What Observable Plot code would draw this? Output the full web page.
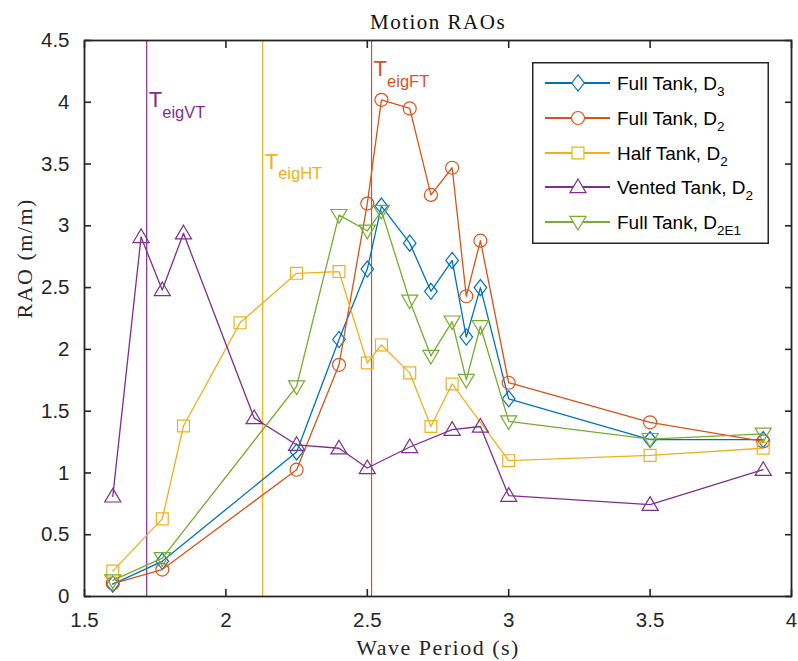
<!DOCTYPE html>
<html>
<head>
<meta charset="utf-8">
<script src="https://cdn.jsdelivr.net/npm/d3@7"></script>
<script src="https://cdn.jsdelivr.net/npm/@observablehq/plot@0.6"></script>
<style>
  html, body { margin: 0; padding: 0; background: white; }
  #wrap { position: relative; width: 798px; height: 661px; overflow: hidden; }
  #wrap svg { display: block; }
  [font-family*="Serif"] { letter-spacing: 1.5px; }
  #legend { position: absolute; left: 532px; top: 62px; }
</style>
</head>
<body>
<div id="wrap"><div id="chart"></div><div id="legend"></div></div>
<script>
// ---------- data ----------
const xTicks = [1.5, 2, 2.5, 3, 3.5, 4];
const yTicks = [0, 0.5, 1, 1.5, 2, 2.5, 3, 3.5, 4, 4.5];

const fullD3Period = [1.6, 1.775, 2.25, 2.4, 2.5, 2.55, 2.65, 2.725, 2.8, 2.85, 2.9, 3.0, 3.5, 3.9];
const fullD3Rao    = [0.10, 0.285, 1.17, 2.08, 2.65, 3.16, 2.86, 2.47, 2.72, 2.10, 2.50, 1.60, 1.27, 1.27];

const fullD2Period = [1.6, 1.775, 2.25, 2.4, 2.5, 2.55, 2.65, 2.725, 2.8, 2.85, 2.9, 3.0, 3.5, 3.9];
const fullD2Rao    = [0.105, 0.218, 1.026, 1.875, 3.18, 4.02, 3.95, 3.25, 3.47, 2.43, 2.88, 1.73, 1.41, 1.255];

const halfD2Period = [1.6, 1.775, 1.85, 2.05, 2.25, 2.4, 2.5, 2.55, 2.65, 2.725, 2.8, 3.0, 3.5, 3.9];
const halfD2Rao    = [0.205, 0.628, 1.38, 2.215, 2.616, 2.63, 1.89, 2.036, 1.81, 1.376, 1.72, 1.099, 1.142, 1.20];

const ventD2Period = [1.6, 1.7, 1.775, 1.85, 2.1, 2.25, 2.4, 2.5, 2.65, 2.8, 2.9, 3.0, 3.5, 3.9];
const ventD2Rao    = [0.81, 2.91, 2.48, 2.94, 1.444, 1.228, 1.20, 1.04, 1.21, 1.35, 1.376, 0.816, 0.743, 1.026];

const fullD2E1Period = [1.6, 1.775, 2.25, 2.4, 2.5, 2.55, 2.65, 2.725, 2.8, 2.85, 2.9, 3.0, 3.5, 3.9];
const fullD2E1Rao    = [0.13, 0.31, 1.70, 3.087, 2.96, 3.12, 2.394, 1.947, 2.225, 1.753, 2.187, 1.417, 1.274, 1.317];

const seriesNames = ["Full Tank, D", "Full Tank, D", "Half Tank, D", "Vented Tank, D", "Full Tank, D"];
const seriesSubs  = ["3", "2", "2", "2", "2E1"];
const seriesColors = ["#0072BD", "#D95319", "#EDB120", "#7E2F8E", "#77AC30"];
const seriesMarkers = ["diamond", "circle", "square", "triangleUp", "triangleDown"];
const seriesPeriods = [fullD3Period, fullD2Period, halfD2Period, ventD2Period, fullD2E1Period];
const seriesRaos = [fullD3Rao, fullD2Rao, halfD2Rao, ventD2Rao, fullD2E1Rao];

const eigNames   = ["eigVT", "eigHT", "eigFT"];
const eigPeriods = [1.72, 2.13, 2.515];
const eigLabelY  = [4.02, 3.52, 4.27];
const eigColors  = ["#7E2F8E", "#EDB120", "#D95319"];

// ---------- marker shapes ----------
function mk(fn) { return { draw(ctx, size) { const s = Math.sqrt(size / Math.PI); fn(ctx, s); } }; }
const symbols = {
  diamond: mk((c, s) => { c.moveTo(0, -s * 1.15); c.lineTo(s * 0.9, 0); c.lineTo(0, s * 1.15); c.lineTo(-s * 0.9, 0); c.closePath(); }),
  circle: mk((c, s) => { const r = s * 0.93; c.moveTo(r, 0); c.arc(0, 0, r, 0, 2 * Math.PI); c.closePath(); }),
  square: mk((c, s) => { const h = s * 0.85; c.moveTo(-h, -h); c.lineTo(h, -h); c.lineTo(h, h); c.lineTo(-h, h); c.closePath(); }),
  triangleUp: mk((c, s) => { c.moveTo(0, -s * 1.15); c.lineTo(s * 1.15, s * 0.8); c.lineTo(-s * 1.15, s * 0.8); c.closePath(); }),
  triangleDown: mk((c, s) => { c.moveTo(0, s * 1.15); c.lineTo(s * 1.15, -s * 0.8); c.lineTo(-s * 1.15, -s * 0.8); c.closePath(); })
};

// ---------- marks ----------
const marks = [];
eigPeriods.forEach((p, i) => {
  marks.push(Plot.ruleX([p], { stroke: eigColors[i], strokeWidth: 1.2 }));
});
seriesPeriods.forEach((periods, k) => {
  const rows = periods.map((p, i) => ({ period: p, rao: seriesRaos[k][i] }));
  marks.push(Plot.line(rows, { x: "period", y: "rao", stroke: seriesColors[k], strokeWidth: 1.3 }));
  marks.push(Plot.dot(rows, { x: "period", y: "rao", symbol: symbols[seriesMarkers[k]], r: 7, stroke: seriesColors[k], fill: "none", strokeWidth: 1.2 }));
});
const eigRows = eigNames.map((n, i) => ({ name: n, period: eigPeriods[i], y: eigLabelY[i], color: eigColors[i] }));
marks.push(Plot.text(eigRows, { x: "period", y: "y", text: () => "T", fill: d => d.color, textAnchor: "start", lineAnchor: "middle", dx: 2, fontSize: 22, fontFamily: "Liberation Sans" }));
marks.push(Plot.text(eigRows, { x: "period", y: "y", text: "name", fill: d => d.color, textAnchor: "start", lineAnchor: "middle", dx: 15.5, dy: 12.5, fontSize: 16.5, fontFamily: "Liberation Sans" }));

marks.push(Plot.frame({ stroke: "#262626", strokeWidth: 1.8 }));
marks.push(Plot.axisX(xTicks, { anchor: "bottom", tickSize: 0, tickPadding: 16, tickFormat: d => String(d), label: null, fontSize: 20.5 }));
marks.push(Plot.axisY(yTicks, { anchor: "left", tickSize: 0, tickPadding: 15, tickFormat: d => String(d), label: null, fontSize: 20.5 }));
marks.push(Plot.axisX(xTicks, { anchor: "bottom", tickSize: -7, tickFormat: () => "", label: null, strokeWidth: 1.6 }));
marks.push(Plot.axisX(xTicks, { anchor: "top", tickSize: -7, tickFormat: () => "", label: null, strokeWidth: 1.6 }));
marks.push(Plot.axisY(yTicks, { anchor: "left", tickSize: -7, tickFormat: () => "", label: null, strokeWidth: 1.6 }));
marks.push(Plot.axisY(yTicks, { anchor: "right", tickSize: -7, tickFormat: () => "", label: null, strokeWidth: 1.6 }));

marks.push(Plot.text(["Motion RAOs"], { frameAnchor: "top", dy: -18, lineAnchor: "middle", fontSize: 21, fontFamily: "Liberation Serif", fill: "#111" }));
marks.push(Plot.text(["Wave Period (s)"], { frameAnchor: "bottom", dy: 51, lineAnchor: "middle", fontSize: 22, fontFamily: "Liberation Serif", fill: "#262626" }));
marks.push(Plot.text(["RAO (m/m)"], { frameAnchor: "left", dx: -60, rotate: -90, lineAnchor: "middle", fontSize: 22, fontFamily: "Liberation Serif", fill: "#262626" }));

const chart = Plot.plot({
  width: 798,
  height: 661,
  marginLeft: 84,
  marginRight: 7,
  marginTop: 40,
  marginBottom: 65,
  x: { domain: [1.5, 4] },
  y: { domain: [0, 4.5] },
  style: { fontFamily: "Liberation Sans", fontSize: "20px", color: "#262626", background: "white", overflow: "visible" },
  marks
});
document.getElementById("chart").append(chart);

// ---------- legend ----------
const LW = 237, LH = 182;
const leg = d3.select("#legend").append("svg").attr("width", LW).attr("height", LH);
leg.append("rect").attr("x", 0.75).attr("y", 0.75).attr("width", LW - 1.5).attr("height", LH - 1.5)
  .attr("fill", "white").attr("stroke", "#262626").attr("stroke-width", 1.5);
const rowY = [21, 56, 91, 125, 160];
seriesNames.forEach((name, k) => {
  const g = leg.append("g").attr("transform", `translate(0,${rowY[k]})`);
  g.append("line").attr("x1", 13).attr("x2", 78).attr("y1", 0).attr("y2", 0)
    .attr("stroke", seriesColors[k]).attr("stroke-width", 1.8);
  const p = d3.path();
  symbols[seriesMarkers[k]].draw(p, 49 * Math.PI);
  g.append("path").attr("d", p.toString()).attr("transform", "translate(46,0)")
    .attr("fill", "white").attr("stroke", seriesColors[k]).attr("stroke-width", 1.2);
  const t = g.append("text").attr("x", 85).attr("y", 6.5)
    .attr("font-family", "Liberation Sans").attr("font-size", 19).attr("fill", "#000");
  t.append("tspan").text(name);
  t.append("tspan").attr("dy", 6).attr("font-size", 13.5).text(seriesSubs[k]);
});
</script>
</body>
</html>
